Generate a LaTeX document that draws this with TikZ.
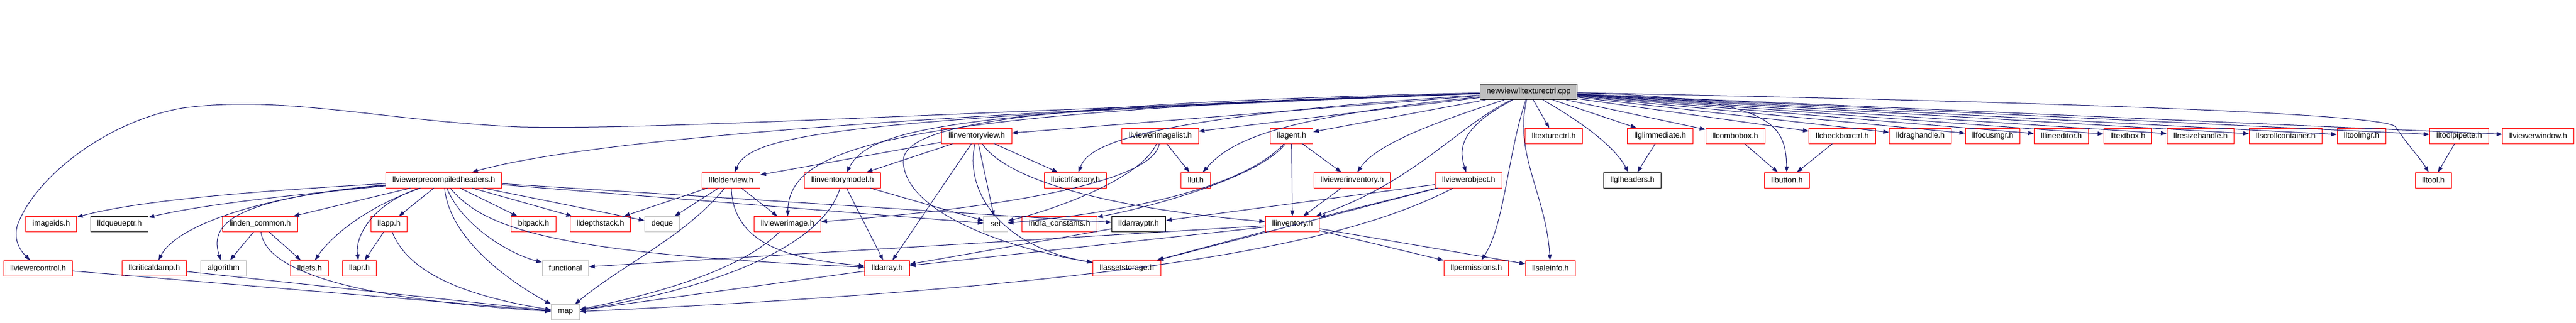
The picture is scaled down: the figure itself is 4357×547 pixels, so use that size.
\documentclass[tikz,border=0pt]{standalone}
\usepackage{fontspec}
\setmainfont{Liberation Sans}
\usetikzlibrary{arrows.meta}
\definecolor{edgeblue}{HTML}{191970}
\definecolor{sysgray}{HTML}{BFBFBF}
\tikzset{>={Triangle[length=2.9mm,width=2.1mm]}}
\tikzset{
  hdr/.style={draw=red,rectangle,line width=0.3mm,minimum height=7.8mm,
    inner xsep=3.4mm,inner ysep=0pt,font=\fontsize{11.2}{13}\selectfont},
  blackbox/.style={hdr,draw=black},
  sysbox/.style={hdr,draw=sysgray},
  inc/.style={->,draw=edgeblue,line width=0.3mm}
}

\begin{document}
\begin{tikzpicture}[x=0.3mm,y=-0.3mm]
\useasboundingbox (0,0) rectangle (4357,547);
\node[hdr,blackbox,fill=sysgray] (cpp) at (2585.5,155.5) {newview/lltexturectrl.cpp};
% first row
\node[hdr] (invview) at (1652,230) {llinventoryview.h};
\node[hdr] (imglist) at (1962.5,230) {llviewerimagelist.h};
\node[hdr] (agent) at (2184.5,230) {llagent.h};
\node[hdr] (texh) at (2628,230) {lltexturectrl.h};
\node[hdr] (glimm) at (2808,230) {llglimmediate.h};
\node[hdr] (combo) at (2935,230) {llcombobox.h};
\node[hdr] (check) at (3116,230) {llcheckboxctrl.h};
\node[hdr] (drag) at (3248,230) {lldraghandle.h};
\node[hdr] (focus) at (3370.5,230) {llfocusmgr.h};
\node[hdr] (lineed) at (3486.5,230) {lllineeditor.h};
\node[hdr] (textbox) at (3599,230) {lltextbox.h};
\node[hdr] (resize) at (3722,230) {llresizehandle.h};
\node[hdr] (scroll) at (3866,230) {llscrollcontainer.h};
\node[hdr] (toolmgr) at (3994.3,230) {lltoolmgr.h};
\node[hdr] (pipette) at (4159.5,230) {lltoolpipette.h};
\node[hdr] (viewwin) at (4293,230) {llviewerwindow.h};
% second row
\node[hdr] (pch) at (750.6,305) {llviewerprecompiledheaders.h};
\node[hdr] (folder) at (1236.5,305) {llfolderview.h};
\node[hdr] (invmodel) at (1425,305) {llinventorymodel.h};
\node[hdr] (uictrl) at (1819,305) {lluictrlfactory.h};
\node[hdr] (ui) at (2022.5,305) {llui.h};
\node[hdr] (viewinv) at (2287,305) {llviewerinventory.h};
\node[hdr] (viewobj) at (2484,305) {llviewerobject.h};
\node[blackbox] (glhdr) at (2761,305) {llglheaders.h};
\node[hdr] (button) at (3022.5,305) {llbutton.h};
\node[hdr] (tool) at (4115.7,305) {lltool.h};
% third row
\node[hdr] (imageids) at (86.7,379.5) {imageids.h};
\node[blackbox] (dqueue) at (202,379.5) {lldqueueptr.h};
\node[hdr] (linden) at (440,379.5) {linden\_common.h};
\node[hdr] (app) at (658,379.5) {llapp.h};
\node[hdr] (bitpack) at (902.5,379.5) {bitpack.h};
\node[hdr] (depth) at (1015.5,379.5) {lldepthstack.h};
\node[sysbox] (deque) at (1120,379.5) {deque};
\node[hdr] (viewimg) at (1332,379.5) {llviewerimage.h};
\node[sysbox] (set) at (1684,379.5) {set};
\node[hdr] (indra) at (1792,379.5) {indra\_constants.h};
\node[blackbox] (darrayptr) at (1926,379.5) {lldarrayptr.h};
\node[hdr] (inv) at (2186,379.5) {llinventory.h};
% fourth row
\node[hdr] (control) at (64.5,454) {llviewercontrol.h};
\node[hdr] (damp) at (261,454) {llcriticaldamp.h};
\node[sysbox] (algo) at (378,454) {algorithm};
\node[hdr] (defs) at (523.7,454) {lldefs.h};
\node[hdr] (apr) at (608,454) {llapr.h};
\node[sysbox] (func) at (956.5,454) {functional};
\node[hdr] (darray) at (1500.5,454) {lldarray.h};
\node[hdr] (asset) at (1906,454) {llassetstorage.h};
\node[hdr] (perm) at (2497,454) {llpermissions.h};
\node[hdr] (sale) at (2622.5,454) {llsaleinfo.h};
\node[sysbox] (map) at (956.5,528.7) {map};
% includes of the cpp
\draw[inc] (cpp) .. controls (1500,195) and (1100,220) .. (880,215)
  .. controls (650,205) and (480,160) .. (309,183)
  .. controls (180,205) and (60,300) .. (30,380)
  .. controls (20,410) and (40,430) .. (control);
\draw[inc] (cpp) .. controls (1600,190) and (1000,235) .. (pch);
\draw[inc] (cpp) .. controls (1400,200) and (1270,230) .. (folder);
\draw[inc] (cpp) .. controls (1500,190) and (1335,250) .. (viewimg);
\draw[inc] (cpp) .. controls (1600,185) and (1470,220) .. (invmodel);
\draw[inc] (cpp) .. controls (1700,175) and (1520,215) .. (1528,277)
  .. controls (1535,360) and (1700,420) .. (asset);
\draw[inc] (cpp) -- (invview);
\draw[inc] (cpp) .. controls (1900,200) and (1840,250) .. (uictrl);
\draw[inc] (cpp) -- (imglist);
\draw[inc] (cpp) .. controls (2150,200) and (2080,240) .. (ui);
\draw[inc] (cpp) -- (agent);
\draw[inc] (cpp) .. controls (2450,200) and (2330,240) .. (viewinv);
\draw[inc] (cpp) .. controls (2470,210) and (2390,310) .. (inv);
\draw[inc] (cpp) .. controls (2460,220) and (2470,260) .. (viewobj);
\draw[inc] (cpp) .. controls (2550,260) and (2545,380) .. (perm);
\draw[inc] (cpp) .. controls (2560,260) and (2615,330) .. (sale);
\draw[inc] (cpp) -- (texh);
\draw[inc] (cpp) .. controls (2690,215) and (2735,255) .. (glhdr);
\draw[inc] (cpp) -- (glimm);
\draw[inc] (cpp) -- (combo);
\draw[inc] (cpp) .. controls (3000,165) and (3020,210) .. (button);
\foreach \t in {check,drag,focus,lineed,textbox,resize,scroll,toolmgr,pipette,viewwin}
  \draw[inc] (cpp) -- (\t);
\draw[inc] (cpp) .. controls (3600,175) and (4040,195) .. (4052,215)
  .. controls (4068,240) and (4095,270) .. (tool);
% includes of the precompiled headers
\draw[inc] (pch) .. controls (500,320) and (250,335) .. (imageids);
\draw[inc] (pch) .. controls (500,330) and (350,345) .. (dqueue);
\draw[inc] (pch) .. controls (450,330) and (300,380) .. (damp);
\draw[inc] (pch) .. controls (420,335) and (350,370) .. (algo);
\draw[inc] (pch) .. controls (620,350) and (560,400) .. (defs);
\draw[inc] (pch) .. controls (630,345) and (600,400) .. (apr);
\draw[inc] (pch) .. controls (780,380) and (860,430) .. (func);
\draw[inc] (pch) .. controls (760,400) and (850,470) .. (map);
\draw[inc] (pch) .. controls (820,390) and (950,430) .. (darray);
\foreach \t in {linden,app,bitpack,depth,deque,set,darrayptr}
  \draw[inc] (pch) -- (\t);
% the rest
\draw[inc] (linden) -- (algo);
\draw[inc] (linden) -- (defs);
\draw[inc] (linden) .. controls (450,470) and (650,510) .. (map);
\draw[inc] (app) -- (apr);
\draw[inc] (app) .. controls (690,460) and (780,500) .. (map);
\draw[inc] (control) -- (map);
\draw[inc] (damp) -- (map);
\draw[inc] (folder) -- (depth);
\draw[inc] (folder) -- (deque);
\draw[inc] (folder) -- (viewimg);
\draw[inc] (folder) .. controls (1240,420) and (1350,440) .. (darray);
\draw[inc] (folder) .. controls (1160,400) and (1050,450) .. (map);
\draw[inc] (viewimg) .. controls (1250,460) and (1100,500) .. (map);
\draw[inc] (invmodel) .. controls (1390,420) and (1200,490) .. (map);
\draw[inc] (invmodel) -- (darray);
\draw[inc] (invmodel) -- (set);
\draw[inc] (darray) -- (map);
\draw[inc] (viewobj) .. controls (2300,400) and (2000,480) .. (map);
\draw[inc] (inv) -- (func);
\draw[inc] (inv) -- (darray);
\draw[inc] (darrayptr) -- (darray);
\draw[inc] (inv) -- (asset);
\draw[inc] (inv) -- (perm);
\draw[inc] (inv) -- (sale);
\draw[inc] (viewobj) -- (asset);
\draw[inc] (viewobj) -- (darrayptr);
\draw[inc] (viewobj) -- (inv);
\draw[inc] (viewinv) -- (inv);
\draw[inc] (agent) -- (inv);
\draw[inc] (agent) -- (viewinv);
\draw[inc] (agent) .. controls (2100,320) and (1900,360) .. (set);
\draw[inc] (agent) .. controls (2130,300) and (1950,350) .. (indra);
\draw[inc] (imglist) .. controls (1930,300) and (1800,350) .. (set);
\draw[inc] (imglist) .. controls (1950,320) and (1600,360) .. (viewimg);
\draw[inc] (imglist) -- (ui);
\draw[inc] (invview) -- (folder);
\draw[inc] (invview) -- (invmodel);
\draw[inc] (invview) -- (darray);
\draw[inc] (invview) -- (set);
\draw[inc] (invview) -- (uictrl);
\draw[inc] (invview) .. controls (1630,330) and (1700,420) .. (asset);
\draw[inc] (invview) .. controls (1700,300) and (1850,350) .. (inv);
\draw[inc] (glimm) -- (glhdr);
\draw[inc] (combo) -- (button);
\draw[inc] (check) -- (button);
\draw[inc] (pipette) -- (tool);
\end{tikzpicture}
\end{document}
